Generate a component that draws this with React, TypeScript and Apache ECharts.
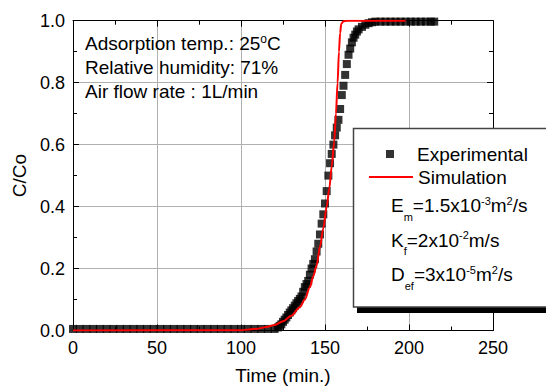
import React, { useEffect, useRef } from "react";
import * as echarts from "echarts";

const expTime = [0, 4, 8, 12, 16, 20, 24, 28, 32, 36, 40, 44, 48, 52, 56, 60, 64, 68, 72, 76, 80, 84, 88, 92, 96, 100, 104, 108, 112, 116, 120, 122, 123, 124, 125, 126, 127, 128, 129, 130, 131, 132, 133, 134, 135, 136, 137, 138, 139, 140, 141, 142, 143, 144, 145, 146, 147, 148, 149, 150, 151, 152, 153, 154, 155, 156, 157, 158, 159, 160, 161, 162, 163, 164, 165, 166, 167, 168, 169, 170, 172, 174, 176, 178, 180, 183, 186, 189, 192, 195, 198, 201, 204, 207, 210, 213, 215];
const expValue = [0.005, 0.005, 0.005, 0.005, 0.005, 0.005, 0.005, 0.005, 0.005, 0.005, 0.005, 0.005, 0.005, 0.005, 0.005, 0.005, 0.005, 0.005, 0.005, 0.005, 0.005, 0.005, 0.005, 0.005, 0.005, 0.005, 0.005, 0.005, 0.005, 0.005, 0.005, 0.01, 0.015, 0.02, 0.028, 0.035, 0.042, 0.05, 0.058, 0.065, 0.072, 0.08, 0.088, 0.095, 0.102, 0.11, 0.125, 0.14, 0.15, 0.16, 0.18, 0.2, 0.215, 0.23, 0.255, 0.28, 0.31, 0.345, 0.375, 0.41, 0.45, 0.5, 0.54, 0.57, 0.6, 0.63, 0.655, 0.68, 0.715, 0.76, 0.79, 0.825, 0.86, 0.89, 0.91, 0.93, 0.945, 0.955, 0.965, 0.972, 0.98, 0.987, 0.992, 0.995, 0.997, 0.997, 0.997, 0.997, 0.997, 0.997, 0.997, 0.997, 0.997, 0.997, 0.997, 0.997, 0.997];

const simTime = [0, 100, 105, 110, 115, 120, 125, 130, 135, 138, 141, 143, 145, 147, 149, 151, 152.6, 154, 155.5, 156.5, 157.5, 158.3, 159, 159.7, 161, 163, 198];
const simValue = [0, 0.001, 0.003, 0.006, 0.011, 0.018, 0.03, 0.048, 0.075, 0.1, 0.14, 0.175, 0.21, 0.27, 0.33, 0.4, 0.46, 0.53, 0.61, 0.7, 0.8, 0.9, 0.96, 0.99, 0.998, 1.0, 1.0];

const xTicks = { min: 0, max: 250, interval: 50 };
const yTicks = { min: 0, max: 1, interval: 0.2 };

const conditionLines = [
  "{t|Adsorption temp.: 25}{o|o}{t|C}",
  "{t|Relative humidity: 71%}",
  "{t|Air flow rate : 1L/min}",
];
const paramLines = [
  "{t|E}{sub|m}{t|=1.5x10}{sup|-3}{t|m}{sup|2}{t|/s}",
  "{t|K}{sub|f}{t|=2x10}{sup|-2}{t|m/s}",
  "{t|D}{sub|ef}{t|=3x10}{sup|-5}{t|m}{sup|2}{t|/s}",
];

const FONT = "'Liberation Sans', Arial, sans-serif";

export default function App() {
  const ref = useRef<HTMLDivElement>(null);
  useEffect(() => {
    if (!ref.current) return;
    const chart = echarts.init(ref.current, null, { renderer: "svg" });
    const rich = {
      t: { fontSize: 19, fontFamily: FONT, color: "#000", lineHeight: 24 },
      o: { fontSize: 12, fontFamily: FONT, color: "#000", lineHeight: 24, padding: [0, 0, 9, 0] },
      sup: { fontSize: 11, fontFamily: FONT, color: "#000", lineHeight: 24, padding: [0, 0, 10, 0] },
      sub: { fontSize: 11, fontFamily: FONT, color: "#000", lineHeight: 24, padding: [22, 0, 0, 0] },
    };
    const axisCommon = {
      type: "value" as const,
      axisLine: { show: true, onZero: false, lineStyle: { color: "#000", width: 1 } },
      axisTick: { show: true, inside: true, length: 6, lineStyle: { color: "#000" } },
      minorTick: { show: true, splitNumber: 2, length: 4, lineStyle: { color: "#000" } },
    };
    const condY = [43, 67, 91];
    const paramY = [205.5, 240, 274.5];
    chart.setOption({
      animation: false,
      backgroundColor: "#fff",
      grid: { left: 73, right: 53, top: 20.7, bottom: 56.5, containLabel: false, outerBoundsMode: "none" },
      xAxis: [
        {
          ...axisCommon,
          ...xTicks,
          position: "bottom",
          splitLine: { show: true, lineStyle: { color: "#b0b0b0", width: 1 } },
          axisLabel: { fontSize: 18, fontFamily: FONT, color: "#000", margin: 8 },
          name: "Time (min.)",
          nameLocation: "middle",
          nameGap: 35,
          nameTextStyle: { fontSize: 19, fontFamily: FONT, color: "#000" },
        },
        {
          ...axisCommon,
          ...xTicks,
          position: "top",
          splitLine: { show: false },
          axisLabel: { show: false },
        },
      ],
      yAxis: [
        {
          ...axisCommon,
          ...yTicks,
          position: "left",
          splitLine: { show: true, lineStyle: { color: "#b0b0b0", width: 1 } },
          axisLabel: { fontSize: 18, fontFamily: FONT, color: "#000", margin: 8, formatter: (v: number) => v.toFixed(1) },
          name: "C/Co",
          nameLocation: "middle",
          nameGap: 33,
          nameTextStyle: { fontSize: 19, fontFamily: FONT, color: "#000" },
        },
        {
          ...axisCommon,
          ...yTicks,
          position: "right",
          splitLine: { show: false },
          axisLabel: { show: false },
        },
      ],
      legend: [
        {
          data: [{ name: "Experimental", icon: "path://M0,0L10,0L10,10L0,10Z" }],
          left: 386,
          top: 143,
          orient: "vertical",
          padding: 0,
          itemWidth: 44,
          itemHeight: 8,
          symbolKeepAspect: true,
          selectedMode: false,
          z: 30,
          textStyle: { fontSize: 19, fontFamily: FONT, color: "#000", lineHeight: 22 },
        },
        {
          data: ["Simulation"],
          left: 368,
          top: 166,
          orient: "vertical",
          padding: 0,
          itemWidth: 44,
          itemHeight: 2,
          selectedMode: false,
          z: 30,
          textStyle: { fontSize: 19, fontFamily: FONT, color: "#000", lineHeight: 22 },
        },
      ],
      graphic: [
        {
          type: "rect",
          z: 20,
          shape: { x: 357, y: 134, width: 220, height: 179 },
          style: { fill: "#000" },
        },
        {
          type: "rect",
          z: 21,
          shape: { x: 353.5, y: 128.5, width: 220, height: 178.5 },
          style: { fill: "#fff", stroke: "#444", lineWidth: 1.5 },
        },
        ...paramLines.map((txt, i) => ({
          type: "text",
          z: 25,
          x: 391,
          y: paramY[i],
          style: { text: txt, rich, align: "left", verticalAlign: "middle", fill: "#000" },
        })),
        ...conditionLines.map((txt, i) => ({
          type: "text",
          z: 25,
          x: 85,
          y: condY[i],
          style: { text: txt, rich, align: "left", verticalAlign: "middle", fill: "#000" },
        })),
      ],
      series: [
        {
          name: "Experimental",
          type: "scatter",
          symbol: "rect",
          symbolSize: 8,
          itemStyle: { color: "#000" },
          data: expTime.map((t, i) => [t, expValue[i]]),
        },
        {
          name: "Simulation",
          type: "line",
          symbol: "none",
          smooth: 0.3,
          smoothMonotone: "x",
          lineStyle: { color: "#ff0000", width: 2 },
          itemStyle: { color: "#ff0000" },
          data: simTime.map((t, i) => [t, simValue[i]]),
        },
      ],
    });
    return () => chart.dispose();
  }, []);
  return (
    <div
      ref={ref}
      style={{ position: "fixed", left: 0, top: 0, width: 546, height: 387, background: "#fff" }}
    />
  );
}
